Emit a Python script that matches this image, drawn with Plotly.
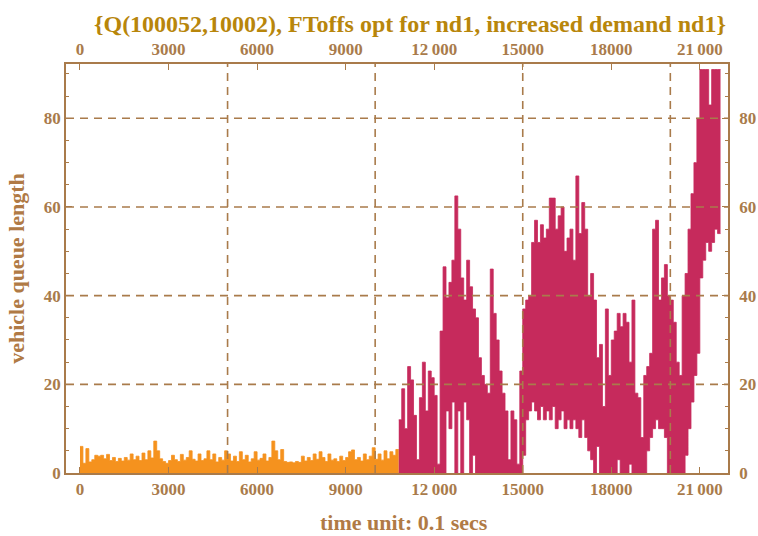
import plotly.graph_objects as go

# Queue length samples, one value per 100 time units (0.1 s each)
STEP = 100

# Baseline phase (orange): queue length per bin, start at t = 0
base_start = 0
base_q = [
    6.0, 2.2, 5.5, 2.5, 3.0, 4.0, 3.8, 4.0, 3.2, 4.2,
    2.8, 3.5, 2.6, 3.3, 2.7, 3.5, 2.9, 4.3, 3.0, 3.8,
    2.8, 4.5, 3.0, 5.0, 3.4, 7.2, 5.0, 3.2, 2.6, 2.2,
    2.8, 4.0, 3.0, 2.6, 4.2, 2.9, 3.5, 5.0, 3.1, 2.7,
    4.3, 2.8, 3.2, 5.0, 3.0, 4.3, 2.5, 3.5, 2.9, 5.0,
    4.3, 2.7, 3.8, 2.6, 4.8, 3.0, 4.0, 2.5, 3.2, 4.8,
    2.9, 3.3, 4.3, 2.7, 3.5, 7.2, 5.0, 3.0, 5.3, 2.6,
    2.4, 2.5, 2.3, 2.6, 2.4, 3.8, 2.7, 3.5, 2.8, 4.3,
    3.1, 4.8, 3.5, 2.6, 4.3, 2.9, 3.2, 2.6, 3.8, 2.8,
    3.5, 4.8, 5.2, 3.0, 3.5, 2.7, 4.3, 3.0, 3.8, 5.7,
    3.1, 4.3, 2.9, 5.0, 3.2, 4.8, 4.0, 5.3,
]

# Increased-demand phase (red): per-bin max and min of the oscillating queue
demand_start = 10800
demand_hi = [
    12, 19, 10, 24, 21, 13, 3, 17, 25, 14,
    23, 21.5, 17.5, 2, 32, 46.5, 39.5, 43, 48, 62.5,
    55, 44, 39, 48, 42, 37, 35, 26, 22, 20,
    18, 46, 36, 30, 23, 18, 14, 3, 14, 12,
    2, 23, 37, 39, 40, 52, 57, 52, 56, 53,
    55, 62, 62, 55, 58, 60, 50, 53, 55, 48,
    67, 54, 61, 55, 40, 45, 39, 26, 29, 15,
    37, 22, 30, 32, 36, 33, 36, 34, 25, 39,
    18, 17, 8, 22, 24, 27, 55, 57, 39, 44,
    47, 40, 39, 34, 25, 22, 40, 45, 55, 63,
    70, 80, 91, 91, 91, 83, 91, 91, 91,
]
demand_lo = [
    0, 0, 0, 0, 0, 0, 0, 0, 0, 0,
    0, 0, 0, 0, 0, 0, 14, 10, 16, 0,
    14, 0, 16, 12, 0, 4, 0, 0, 0, 0,
    0, 0, 0, 0, 0, 0, 0, 0, 0, 0,
    0, 0, 4, 12, 14, 16, 14, 12, 15, 12,
    14, 12, 15, 10, 12, 14, 10, 12, 10, 12,
    10, 8, 12, 8, 5, 3, 0, 6, 0, 0,
    0, 0, 0, 0, 3, 0, 0, 0, 2, 0,
    0, 0, 0, 0, 5, 8, 10, 12, 10, 10,
    8, 0, 0, 0, 0, 0, 0, 4, 10, 16,
    22, 27, 44, 48, 52, 50, 52, 55, 54,
]

# Axes
X_RANGE = [-474, 21954]
Y_RANGE = [0, 92.25]
x_ticks = [0, 3000, 6000, 9000, 12000, 15000, 18000, 21000]
x_labels = ["0", "3000", "6000", "9000", "12\u2009000", "15000", "18000", "21\u2009000"]
y_ticks = [0, 20, 40, 60, 80]
grid_x = [5000, 10000, 15000, 20000]
grid_y = [20, 40, 60, 80]

FRAME = "#A97B4B"
TITLE_C = "#B8860B"
LABEL_C = "#B07A45"
ORANGE = "#F5921E"
CRIMSON = "#C62A5C"
SERIF = "Liberation Serif, Times New Roman, serif"


def step_xy(start, values):
    """Stepped outline: each value holds for one bin, closed at the last bin's end."""
    xs = [start + i * STEP for i in range(len(values))]
    return xs + [xs[-1] + STEP], list(values) + [values[-1]]


fig = go.Figure()

bx, by = step_xy(base_start, base_q)
fig.add_trace(go.Scatter(
    x=bx, y=by, mode="lines", line=dict(shape="hv", color=ORANGE, width=0.8),
    fill="tozeroy", fillcolor=ORANGE, hoverinfo="skip", showlegend=False,
))

lx, ly = step_xy(demand_start, demand_lo)
hx, hy = step_xy(demand_start, demand_hi)
fig.add_trace(go.Scatter(
    x=lx, y=ly, mode="lines", line=dict(shape="hv", color=CRIMSON, width=0.8),
    hoverinfo="skip", showlegend=False,
))
fig.add_trace(go.Scatter(
    x=hx, y=hy, mode="lines", line=dict(shape="hv", color=CRIMSON, width=0.8),
    fill="tonexty", fillcolor=CRIMSON, hoverinfo="skip", showlegend=False,
))
# empty trace so the mirrored top/right axes are drawn
fig.add_trace(go.Scatter(x=[], y=[], xaxis="x2", yaxis="y2", showlegend=False))

tick_font = dict(family=SERIF, size=17, color=FRAME, weight="bold")
common_x = dict(range=X_RANGE, tickvals=x_ticks, ticktext=x_labels, ticks="inside",
                ticklen=6, tickwidth=1.3, tickcolor=FRAME, showline=True,
                linecolor=FRAME, linewidth=1.6, showgrid=False, zeroline=False,
                tickfont=tick_font, automargin=False)
common_y = dict(range=Y_RANGE, tickvals=y_ticks, ticks="inside", ticklen=6,
                tickwidth=1.3, tickcolor=FRAME, showline=True, linecolor=FRAME,
                linewidth=1.6, showgrid=False, zeroline=False, tickfont=tick_font,
                automargin=False,
                minor=dict(dtick=5, ticks="inside", ticklen=3.5, tickwidth=1.1,
                           tickcolor=FRAME, showgrid=False))

shapes = []
for gx in grid_x:
    shapes.append(dict(type="line", xref="x", yref="paper", x0=gx, x1=gx, y0=0, y1=1,
                       line=dict(color=FRAME, width=1.6, dash="8px,6px"), layer="above"))
for gy in grid_y:
    shapes.append(dict(type="line", xref="paper", yref="y", x0=0, x1=1, y0=gy, y1=gy,
                       line=dict(color=FRAME, width=1.6, dash="8px,6px"), layer="above"))

fig.update_layout(
    width=758, height=536,
    margin=dict(l=66, r=30, t=64, b=63, autoexpand=False),
    paper_bgcolor="white", plot_bgcolor="white",
    xaxis=dict(**common_x, side="bottom"),
    xaxis2=dict(**common_x, side="top", overlaying="x", anchor="y"),
    yaxis=dict(**common_y, side="left"),
    yaxis2=dict(**common_y, side="right", overlaying="y", anchor="x", ticklabelstandoff=6),
    shapes=shapes,
    annotations=[
        dict(text="{Q(100052,10002), FToffs opt for nd1, increased demand nd1}",
             xref="paper", yref="paper", x=0.52, y=1.098, xanchor="center", yanchor="middle",
             showarrow=False, font=dict(family=SERIF, size=24, color=TITLE_C, weight="bold")),
        dict(text="time unit: 0.1 secs", xref="paper", yref="paper", x=0.51, y=-0.122,
             xanchor="center", yanchor="middle", showarrow=False,
             font=dict(family=SERIF, size=22, color=LABEL_C, weight="bold")),
        dict(text="vehicle queue length", xref="paper", yref="paper", x=-0.075, y=0.5,
             xanchor="center", yanchor="middle", textangle=-90, showarrow=False,
             font=dict(family=SERIF, size=22, color=LABEL_C, weight="bold")),
    ],
)

fig.write_html("out.html")
